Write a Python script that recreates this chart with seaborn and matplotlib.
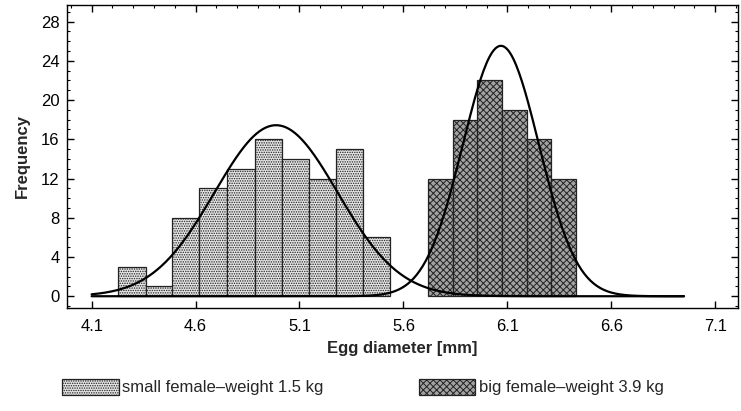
import numpy as np
import pandas as pd
import matplotlib
matplotlib.use("Agg")
import matplotlib.pyplot as plt
import seaborn as sns
from matplotlib.ticker import MultipleLocator

# ---- data ----
small_edges = [4.228, 4.361, 4.488, 4.618, 4.750, 4.886, 5.017, 5.147, 5.276, 5.407, 5.536]
small_counts = [3, 1, 8, 11, 13, 16, 14, 12, 15, 6]
big_edges = [5.720, 5.837, 5.956, 6.076, 6.193, 6.310, 6.429]
big_counts = [12, 18, 22, 19, 16, 12]
small_label = "small female\u2013weight 1.5 kg"
big_label = "big female\u2013weight 3.9 kg"
x_ticks = [4.1, 4.6, 5.1, 5.6, 6.1, 6.6, 7.1]
y_ticks = [0, 4, 8, 12, 16, 20, 24, 28]
curve_range = (4.1, 6.95)

sns.set_theme(style="white")
plt.rcParams["font.family"] = ["Liberation Sans", "DejaVu Sans"]
plt.rcParams["hatch.linewidth"] = 0.7

fig = plt.figure(figsize=(7.41, 4.11), dpi=100)
ax = fig.add_axes([0.09, 0.2506, 0.906, 0.7374])


def centers(edges):
    e = np.asarray(edges)
    return (e[:-1] + e[1:]) / 2


df_small = pd.DataFrame({"d": centers(small_edges), "n": small_counts})
df_big = pd.DataFrame({"d": centers(big_edges), "n": big_counts})

sns.histplot(data=df_small, x="d", weights="n", bins=small_edges, ax=ax,
             color="#d0d0d0", edgecolor="#222222", linewidth=0.9, alpha=1)
n_small = len(ax.patches)
for p in ax.patches:
    p.set_hatch(".......")
    p.set_facecolor("#e6e6e6")
sns.histplot(data=df_big, x="d", weights="n", bins=big_edges, ax=ax,
             color="#9a9a9a", edgecolor="#222222", linewidth=0.9, alpha=1)
for p in ax.patches[n_small:]:
    p.set_hatch("xxxxx")
    p.set_facecolor("#a2a2a2")


def normal_curve(edges, counts):
    c = centers(edges)
    w = np.asarray(counts, float)
    n = w.sum()
    mu = (c * w).sum() / n
    sd = np.sqrt(((c - mu) ** 2 * w).sum() / n)
    bw = np.mean(np.diff(edges))
    xs = np.linspace(curve_range[0], curve_range[1], 400)
    ys = n * bw / (sd * np.sqrt(2 * np.pi)) * np.exp(-0.5 * ((xs - mu) / sd) ** 2)
    return xs, ys


for edges, counts in [(small_edges, small_counts), (big_edges, big_counts)]:
    xs, ys = normal_curve(edges, counts)
    sns.lineplot(x=xs, y=ys, ax=ax, color="black", linewidth=1.6)

ax.set_xlim(3.98, 7.21)
ax.set_ylim(-1.2, 29.7)
ax.set_xticks(x_ticks)
ax.set_xticklabels([f"{v:.1f}" for v in x_ticks])
ax.set_yticks(y_ticks)
ax.xaxis.set_minor_locator(MultipleLocator(0.1))
ax.yaxis.set_minor_locator(MultipleLocator(1))
ax.tick_params(axis="both", which="major", direction="in", length=5, width=1,
               labelsize=12, color="black", labelcolor="black",
               top=True, right=True, bottom=True, left=True, pad=5)
ax.tick_params(axis="both", which="minor", direction="in", length=2.5, width=0.8,
               color="black", top=True, right=True, bottom=False, left=True)
ax.tick_params(axis="x", pad=8)
for s in ax.spines.values():
    s.set_color("black")
    s.set_linewidth(1.0)

ax.set_xlabel("Egg diameter [mm]", fontsize=12, fontweight="bold", labelpad=5)
ax.set_ylabel("Frequency", fontsize=12, fontweight="bold", labelpad=8)

h_small = ax.patches[0]
h_big = ax.patches[n_small]
fig.legend([h_small, h_big], [small_label, big_label], loc="center left",
           bbox_to_anchor=(0.075, 0.058), ncol=2, frameon=False, fontsize=12,
           handlelength=3.4, handleheight=1.1, handletextpad=0.2,
           columnspacing=5.7, borderaxespad=0)

fig.savefig("out.png", dpi=100)
